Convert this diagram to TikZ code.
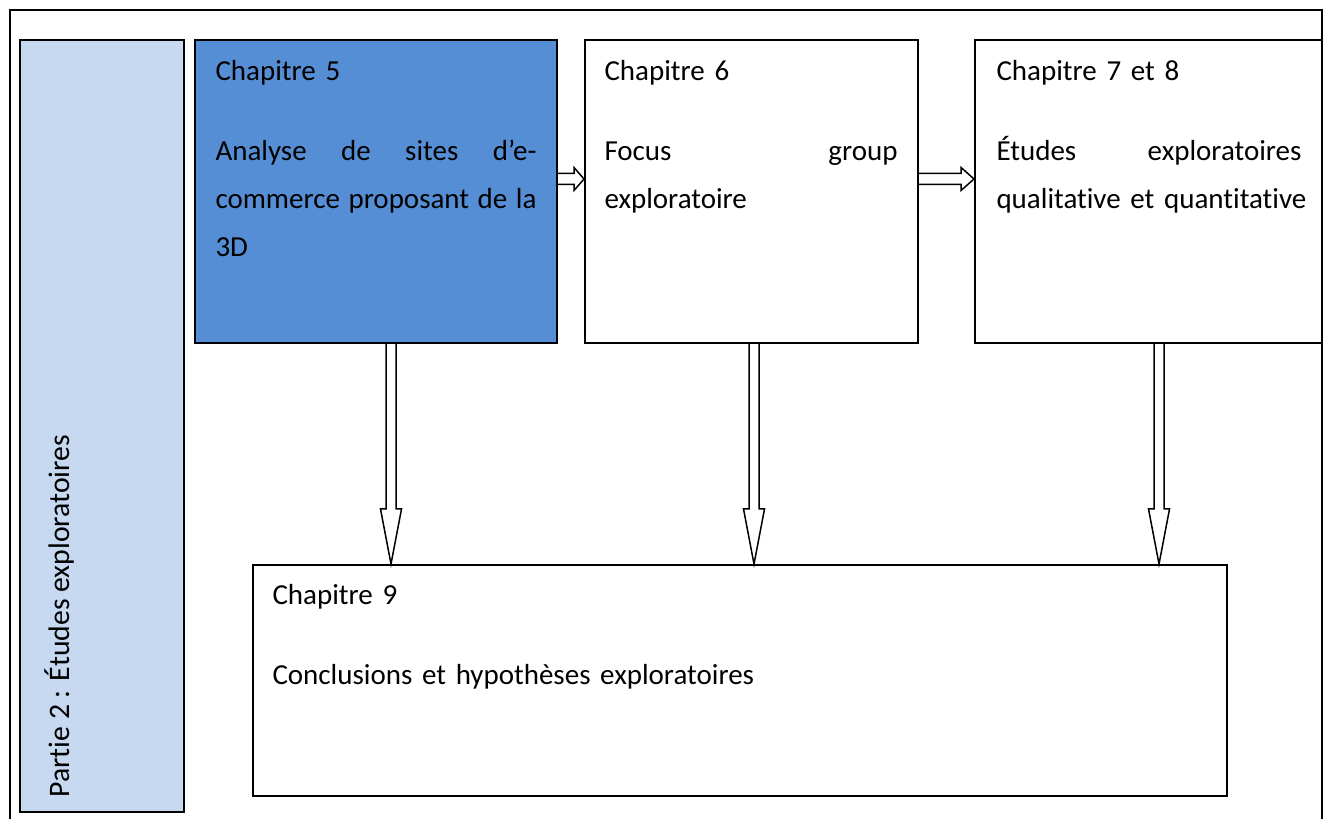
\documentclass[tikz,border=0pt]{standalone}
\usepackage{fontspec}
\setmainfont{Carlito}[Ligatures=NoCommon]
\usepackage{xcolor}
\usepackage{tikz}
\usetikzlibrary{calc, positioning}

\definecolor{partieblue}{HTML}{C6D9F0}
\definecolor{chapblue}{HTML}{558ED5}

% Hollow block arrows between boxes
\newcommand{\downarrowhollow}[2]{%
  \draw[hollow] let \p1=(#1), \p2=(#2) in
    (\x1-2pt,\y1) -- (\x1-2pt,\y2+22pt) -- (\x1-4.2pt,\y2+22pt) -- (\x1,\y2)
    -- (\x1+4.2pt,\y2+22pt) -- (\x1+2pt,\y2+22pt) -- (\x1+2pt,\y1);}
\newcommand{\rightarrowhollow}[3]{%
  \draw[hollow] let \p1=(#1), \p2=(#2) in
    (\x1,\y1+2.2pt) -- (\x2-#3,\y1+2.2pt) -- (\x2-#3,\y1+4.6pt) -- (\x2,\y1)
    -- (\x2-#3,\y1-4.6pt) -- (\x2-#3,\y1-2.2pt) -- (\x1,\y1-2.2pt);}

\begin{document}
\begin{tikzpicture}[x=0.4pt, y=0.4pt,
  chapbox/.style={draw=black, line width=0.8pt, rectangle, inner sep=0pt},
  chaptext/.style={anchor=north west, inner sep=0pt, align=left,
    font=\fontsize{11.6}{19.2}\selectfont},
  hollow/.style={draw=black, line width=0.6pt, line join=miter}]

% Canvas
\useasboundingbox (0,0) rectangle (1330,819);

% Outer frame, open at the bottom
\draw[line width=0.8pt] (10,0) -- (10,809) -- (1322,809) -- (1322,0);

% Side band
\node[chapbox, fill=partieblue, minimum width=164*0.4pt, minimum height=772*0.4pt] (partie) at (102,393) {};
\node[rotate=90, anchor=base west, inner sep=0pt, font=\fontsize{11.9}{14}\selectfont] (partietxt) at (69,21) {Partie 2 : Études exploratoires};

% Chapter boxes
\node[chapbox, fill=chapblue, minimum width=362*0.4pt, minimum height=303*0.4pt] (ch5) at (376,627.5) {};
\node[chapbox, minimum width=333*0.4pt, minimum height=303*0.4pt] (ch6) at (751.5,627.5) {};
\node[chapbox, minimum width=347*0.4pt, minimum height=303*0.4pt] (ch7) at (1148.5,627.5) {};
\node[chapbox, minimum width=974*0.4pt, minimum height=231*0.4pt] (ch9) at (740,138.5) {};

% Texts
\node[chaptext, text width=128.4pt] (ch5txt) at ([xshift=8.4pt, yshift=-7.4pt]ch5.north west)
  {\rule{0pt}{9pt}Chapitre 5\\[12.8pt]Analyse\hfill de\hfill sites\hfill d’e-\\commerce\hfill proposant\hfill de\hfill la\\3D};
\node[chaptext, text width=117.2pt] (ch6txt) at ([xshift=8pt, yshift=-7.4pt]ch6.north west)
  {\rule{0pt}{9pt}Chapitre 6\\[12.8pt]Focus\hfill group\\exploratoire};
\node[chaptext, text width=122pt] (ch7txt) at ([xshift=8.8pt, yshift=-7.4pt]ch7.north west)
  {\rule{0pt}{9pt}Chapitre 7 et 8\\[12.8pt]Études\hfill exploratoires\\\mbox{qualitative et quantitative}};
\node[chaptext, text width=360pt] (ch9txt) at ([xshift=8pt, yshift=-7pt]ch9.north west)
  {\rule{0pt}{9pt}Chapitre 9\\[12.8pt]Conclusions et hypothèses exploratoires};

% Arrows
\rightarrowhollow{[yshift=5pt]ch5.east}{[yshift=5pt]ch6.west}{4pt}
\rightarrowhollow{[yshift=5pt]ch6.east}{[yshift=5pt]ch7.west}{5.2pt}
\downarrowhollow{[xshift=6pt]ch5.south}{ch9.north}
\downarrowhollow{[xshift=1pt]ch6.south}{ch9.north}
\downarrowhollow{[xshift=4.2pt]ch7.south}{ch9.north}

\end{tikzpicture}
\end{document}
